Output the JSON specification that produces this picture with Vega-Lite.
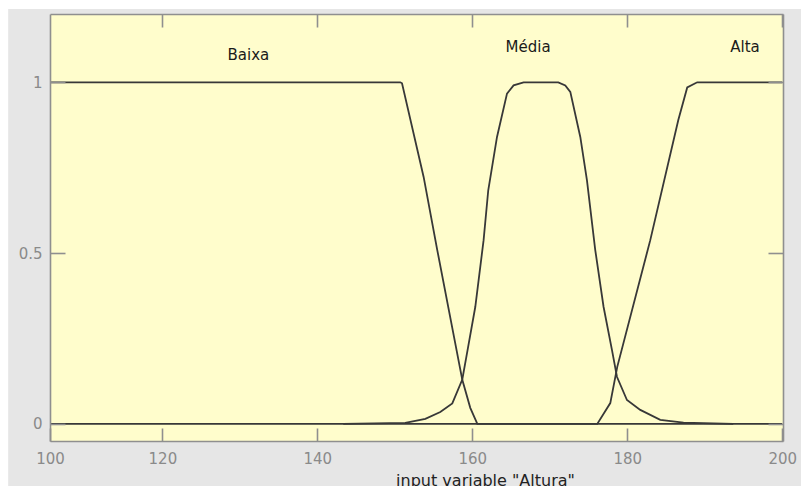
{
  "$schema": "https://vega.github.io/schema/vega-lite/v6.json",
  "width": 733,
  "height": 427,
  "autosize": {"type": "none"},
  "padding": {"left": 50, "top": 14, "right": 18, "bottom": 45},
  "background": "white",
  "config": {
    "view": {"stroke": null},
    "font": "DejaVu Sans",
    "axis": {"grid": false, "domainColor": "#8f8f8f", "domainWidth": 1.6, "tickColor": "#8f8f8f", "tickWidth": 1.6, "labelColor": "#8a8a8a", "labelFont": "DejaVu Sans", "labelFontSize": 15}
  },
  "datasets": {
    "mf": [
      {"set": "Baixa", "x": 100, "y": 1},
      {"set": "Baixa", "x": 150.71, "y": 1},
      {"set": "Baixa", "x": 150.93, "y": 0.997},
      {"set": "Baixa", "x": 153.72, "y": 0.723},
      {"set": "Baixa", "x": 155.48, "y": 0.509},
      {"set": "Baixa", "x": 158.71, "y": 0.129},
      {"set": "Baixa", "x": 159.74, "y": 0.047},
      {"set": "Baixa", "x": 160.65, "y": 0},
      {"set": "Baixa", "x": 200, "y": 0},
      {"set": "Média", "x": 143.35, "y": 0},
      {"set": "Média", "x": 151.35, "y": 0.003},
      {"set": "Média", "x": 153.94, "y": 0.015},
      {"set": "Média", "x": 155.87, "y": 0.035},
      {"set": "Média", "x": 157.42, "y": 0.06},
      {"set": "Média", "x": 158.71, "y": 0.13},
      {"set": "Média", "x": 159.39, "y": 0.216},
      {"set": "Média", "x": 160.39, "y": 0.343},
      {"set": "Média", "x": 161.46, "y": 0.538},
      {"set": "Média", "x": 162.06, "y": 0.684},
      {"set": "Média", "x": 163.19, "y": 0.84},
      {"set": "Média", "x": 164.48, "y": 0.967},
      {"set": "Média", "x": 165.33, "y": 0.991},
      {"set": "Média", "x": 166.62, "y": 1},
      {"set": "Média", "x": 171.1, "y": 1},
      {"set": "Média", "x": 172.0, "y": 0.991},
      {"set": "Média", "x": 172.65, "y": 0.972},
      {"set": "Média", "x": 173.94, "y": 0.84},
      {"set": "Média", "x": 174.8, "y": 0.713},
      {"set": "Média", "x": 175.87, "y": 0.509},
      {"set": "Média", "x": 176.94, "y": 0.343},
      {"set": "Média", "x": 178.03, "y": 0.216},
      {"set": "Média", "x": 178.67, "y": 0.138},
      {"set": "Média", "x": 179.96, "y": 0.07},
      {"set": "Média", "x": 181.68, "y": 0.041},
      {"set": "Média", "x": 184.26, "y": 0.012},
      {"set": "Média", "x": 187.26, "y": 0.004},
      {"set": "Média", "x": 193.68, "y": 0},
      {"set": "Alta", "x": 100, "y": 0},
      {"set": "Alta", "x": 176.13, "y": 0},
      {"set": "Alta", "x": 177.81, "y": 0.061},
      {"set": "Alta", "x": 178.71, "y": 0.167},
      {"set": "Alta", "x": 182.97, "y": 0.538},
      {"set": "Alta", "x": 186.58, "y": 0.889},
      {"set": "Alta", "x": 187.74, "y": 0.985},
      {"set": "Alta", "x": 189.03, "y": 1},
      {"set": "Alta", "x": 200, "y": 1}
    ],
    "labels": [
      {"label": "Baixa", "x": 131.1, "y": 1.079},
      {"label": "Média", "x": 167.2, "y": 1.102},
      {"label": "Alta", "x": 195.2, "y": 1.102}
    ]
  },
  "resolve": {"axis": {"x": "independent", "y": "independent"}},
  "layer": [
    {
      "data": {"values": [{}]},
      "mark": {"type": "rect", "color": "#e6e6e6", "clip": false},
      "encoding": {
        "x": {"datum": 100.1, "type": "quantitative", "scale": {"domain": [105.5, 200.1], "nice": false, "zero": false}, "axis": null},
        "x2": {"datum": 205},
        "y": {"datum": 1.215, "type": "quantitative", "scale": {"domain": [-0.05, 1.2], "nice": false, "zero": false}, "axis": null},
        "y2": {"datum": -0.2}
      }
    },
    {
      "data": {"values": [{}]},
      "mark": {"type": "rect", "color": "#fffdcc", "clip": false},
      "encoding": {
        "x": {"datum": 105.5, "type": "quantitative", "scale": {"domain": [105.5, 200.1], "nice": false, "zero": false}, "axis": null},
        "x2": {"datum": 200.1},
        "y": {"datum": 1.2, "type": "quantitative", "scale": {"domain": [-0.05, 1.2], "nice": false, "zero": false}, "axis": null},
        "y2": {"datum": -0.05}
      }
    },
    {
      "data": {"name": "mf"},
      "mark": {"type": "line", "clip": true, "color": "#383838", "strokeWidth": 1.8},
      "encoding": {
        "detail": {"field": "set"},
        "x": {"field": "x", "type": "quantitative", "scale": {"domain": [105.5, 200.1], "nice": false, "zero": false},
          "axis": {"orient": "bottom", "zindex": 1, "values": [105.5, 120, 140, 160, 180, 200], "labelExpr": "datum.value < 110 ? '100' : format(datum.value, 'd')", "labelFlush": false, "labelBound": false, "labelOverlap": false, "tickSize": -13, "labelPadding": 23,
            "title": "input variable \"Altura\"", "titleFont": "DejaVu Sans", "titleFontSize": 16, "titleFontWeight": "normal", "titleColor": "#222222", "titleX": 435, "titleY": 44.5, "titleAlign": "center", "titleBaseline": "alphabetic", "titleAnchor": null}},
        "y": {"field": "y", "type": "quantitative", "scale": {"domain": [-0.05, 1.2], "nice": false, "zero": false},
          "axis": {"orient": "left", "zindex": 1, "values": [0, 0.5, 1], "format": "~g", "tickSize": -15, "labelPadding": 23, "title": null}}
      }
    },
    {
      "data": {"name": "labels"},
      "mark": {"type": "text", "font": "DejaVu Sans", "fontSize": 15, "color": "#1a1a1a", "align": "center", "baseline": "middle"},
      "encoding": {
        "text": {"field": "label"},
        "x": {"field": "x", "type": "quantitative", "scale": {"domain": [105.5, 200.1], "nice": false, "zero": false},
          "axis": {"orient": "top", "zindex": 1, "values": [120, 140, 160, 180, 200], "labels": false, "tickSize": -13, "title": null}},
        "y": {"field": "y", "type": "quantitative", "scale": {"domain": [-0.05, 1.2], "nice": false, "zero": false},
          "axis": {"orient": "right", "zindex": 1, "values": [0, 0.5, 1], "labels": false, "tickSize": -15, "title": null}}
      }
    }
  ]
}
